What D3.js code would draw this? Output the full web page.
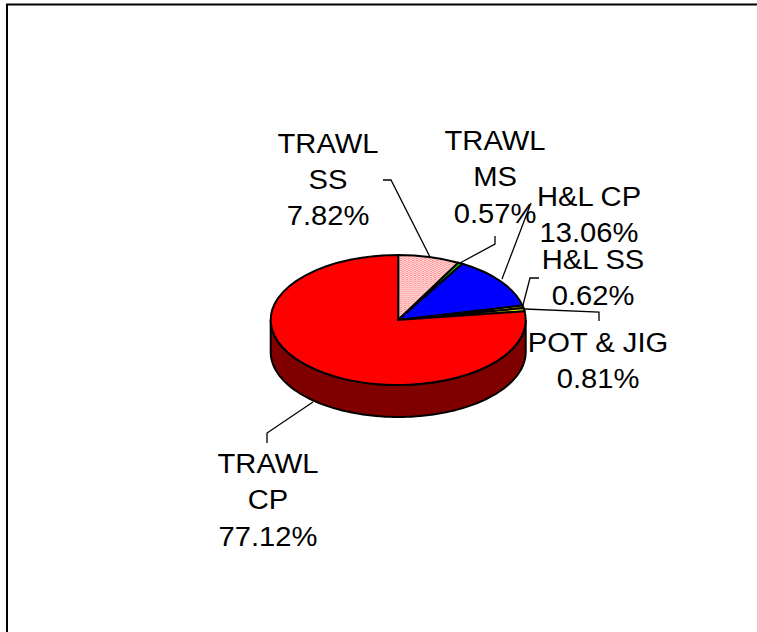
<!DOCTYPE html>
<html><head><meta charset="utf-8">
<style>html,body{margin:0;padding:0;background:#fff;overflow:hidden}svg{display:block}text{font-family:"Liberation Sans",Arial,sans-serif;font-size:27px;fill:#000;text-anchor:middle}</style>
<script src="https://cdnjs.cloudflare.com/ajax/libs/d3/7.8.5/d3.min.js"></script>
</head><body><div id="c"></div>
<script>
const categories=["TRAWL SS","TRAWL MS","H&L CP","H&L SS","POT & JIG","TRAWL CP"];
const values=[7.82,0.57,13.06,0.62,0.81,77.12];
const labelLines=[["TRAWL","SS","7.82%"],["TRAWL","MS","0.57%"],["H&L CP","13.06%"],["H&L SS","0.62%"],["POT & JIG","0.81%"],["TRAWL","CP","77.12%"]];
const colors=["url(#dots)","#20e000","#0000ff","#ffff00","#e8d800","#ff0000"];
const labelPos=[[328,152.5],[495,150],[589,206],[593,269],[598,352],[268,473]];
const leaders=[
 [[383,180],[391,180],[430,257]],
 [[495,236],[495,244],[460,263]],
 [[531,203],[502,279]],
 [[539,278],[530,278],[523,305]],
 [[525,309],[599,312],[599,321]],
 [[267,443],[267,433],[313,402]]
];
const W=757,H=632,cx=398.2,cy=320,rx=127.5,ry=65,depth=32;
const svg=d3.select("#c").append("svg").attr("width",W).attr("height",H);
const defs=svg.append("defs");
const p=defs.append("pattern").attr("id","dots").attr("width",4).attr("height",4).attr("patternUnits","userSpaceOnUse");
p.append("rect").attr("width",4).attr("height",4).attr("fill","#fff");
[[0,0],[2,2]].forEach(d=>p.append("rect").attr("x",d[0]).attr("y",d[1]).attr("width",2).attr("height",2).attr("fill","#ff8c8c"));
p.append("rect").attr("x",2).attr("y",0).attr("width",2).attr("height",2).attr("fill","#ffd8d8");
p.append("rect").attr("x",0).attr("y",2).attr("width",2).attr("height",2).attr("fill","#ffd8d8");
svg.append("rect").attr("x",7).attr("y",4.5).attr("width",800).attr("height",800).attr("fill","#fff").attr("stroke","#000").attr("stroke-width",2);
const pie=d3.pie().sort(null).value(d=>d);
const arcs=pie(values);
const ang=d3.scaleLinear().domain([0,1]).range([Math.PI/2,3*Math.PI/2]);
const steps=d3.range(0,1.0001,1/90).map(ang);
const rim=d3.area().x(a=>cx+rx*Math.sin(a)).y0(a=>cy-ry*Math.cos(a)).y1(a=>cy-ry*Math.cos(a)+depth);
svg.append("path").attr("d",rim(steps)).attr("fill","#800000").attr("stroke","#000").attr("stroke-width",2);
const arc=d3.arc().innerRadius(0).outerRadius(rx);
svg.append("g").attr("transform",`translate(${cx},${cy}) scale(1,${ry/rx})`)
 .selectAll("path").data(arcs).join("path").attr("d",arc).attr("fill",(d,i)=>colors[i])
 .attr("stroke","#000").attr("stroke-width",2).attr("vector-effect","non-scaling-stroke");
const line=d3.line();
svg.append("g").selectAll("path").data(leaders).join("path").attr("d",line).attr("fill","none").attr("stroke","#000").attr("stroke-width",1.3);
const t=svg.append("g").selectAll("text").data(labelLines).join("text")
 .attr("transform",(d,i)=>`translate(${labelPos[i][0]},${labelPos[i][1]}) scale(1.08,1)`);
t.selectAll("tspan").data(d=>d).join("tspan").attr("x",0).attr("y",(d,i)=>i*36.5).text(d=>d);
</script></body></html>
